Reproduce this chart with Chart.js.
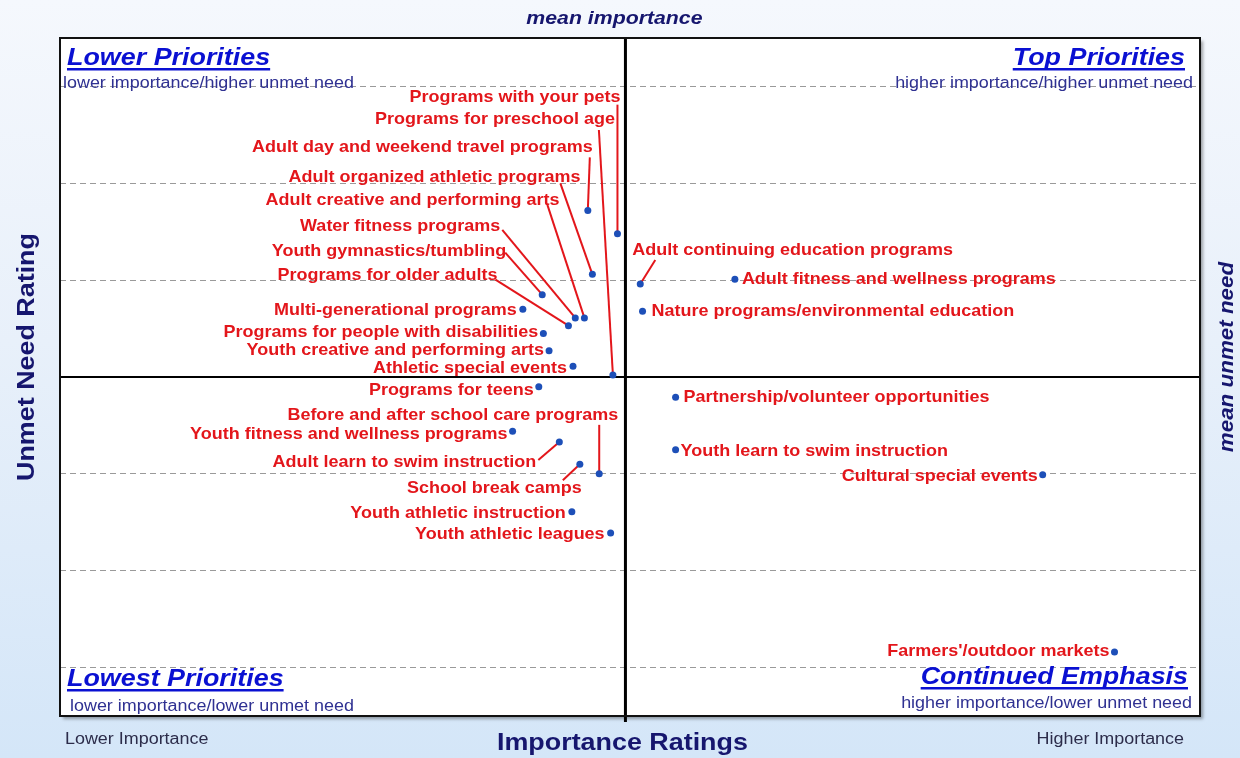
<!DOCTYPE html>
<html>
<head>
<meta charset="utf-8">
<script src="https://cdn.jsdelivr.net/npm/chart.js@4.4.0/dist/chart.umd.min.js"></script>
<style>
  html, body { margin: 0; padding: 0; }
  body {
    width: 1240px; height: 758px; overflow: hidden;
    background: linear-gradient(to bottom, #f5f8fd 0%, #e8f0fa 45%, #d4e6f8 100%);
  }
</style>
</head>
<body>
<canvas id="matrix" width="1240" height="758"></canvas>
<script>
// programs, importance rating (x) and unmet need rating (y)
const programs = [
    'Programs with your pets', 'Programs for preschool age', 'Adult day and weekend travel programs',
    'Adult organized athletic programs', 'Adult creative and performing arts', 'Water fitness programs',
    'Youth gymnastics/tumbling', 'Programs for older adults', 'Multi-generational programs',
    'Programs for people with disabilities', 'Youth creative and performing arts', 'Athletic special events',
    'Adult continuing education programs', 'Adult fitness and wellness programs', 'Nature programs/environmental education',
    'Programs for teens', 'Before and after school care programs', 'Youth fitness and wellness programs',
    'Adult learn to swim instruction', 'School break camps', 'Youth athletic instruction',
    'Youth athletic leagues', 'Partnership/volunteer opportunities', 'Youth learn to swim instruction',
    'Cultural special events', "Farmers'/outdoor markets"
];
const importance = [
    48.9, 48.5, 46.3, 46.7, 46.0, 45.2, 42.3, 44.6, 40.6, 42.4, 42.9, 45.0, 50.9,
    59.2, 51.1, 42.0, 47.3, 39.7, 43.8, 45.6, 44.9, 48.3, 54.0, 54.0, 86.2, 92.5
];
const unmetNeed = [
    4.98, 3.52, 5.22, 4.56, 4.11, 4.11, 4.35, 4.03, 4.20, 3.95, 3.77, 3.61, 4.46,
    4.51, 4.18, 3.40, 2.50, 2.94, 2.83, 2.60, 2.11, 1.89, 3.29, 2.75, 2.49, 0.66
];
const meanImportance = 49.6;
const meanUnmetNeed = 3.5;
const needGridLines = [0.5, 1.5, 2.5, 4.5, 5.5, 6.5];

// label placement relative to each dot: [dx, dy, align, leaderDx, leaderDy]
const labelPlacement = [
    [3, -138, 'right', 0, -129],
    [2, -257, 'right', -14, -245],
    [5, -64, 'right', 2, -53],
    [-12, -98, 'right', -32, -91],
    [-25, -119, 'right', -37, -113],
    [-75, -93, 'right', -73, -88],
    [-36, -45, 'right', -37, -42],
    [-71, -52, 'right', -73, -46],
    [-6, 0, 'right'],
    [-5, -2, 'right'],
    [-5, -2, 'right'],
    [-6, 1, 'right'],
    [-8, -35, 'left', 15, -24],
    [7, -1, 'left'],
    [9, -1, 'left'],
    [-5, 2, 'right'],
    [19, -60, 'right', 0, -49],
    [-5, 2, 'right'],
    [-23, 19, 'right', -21, 18],
    [2, 23, 'right', -17, 16],
    [-6, 0, 'right'],
    [-6, 0, 'right'],
    [8, -1, 'left'],
    [5, 0, 'left'],
    [-5, 0, 'right'],
    [-5, -2, 'right']
];

const FONT = '"Liberation Sans", Arial, Helvetica, sans-serif';
const LABEL_RED = '#e3161b';
const STRETCH = 1.12; // the original text is a bit wide

function drawText(ctx, text, x, y, font, color, align, underline, sx) {
    sx = sx || STRETCH;
    ctx.save();
    ctx.font = font;
    ctx.fillStyle = color;
    ctx.textAlign = align || 'left';
    ctx.translate(x, y);
    ctx.scale(sx, 1);
    ctx.fillText(text, 0, 0);
    if (underline) {
        const w = ctx.measureText(text).width;
        const x0 = align === 'right' ? -w : (align === 'center' ? -w / 2 : 0);
        ctx.fillRect(x0, 3, w, 2.5);
    }
    ctx.restore();
}

const quadrantPlugin = {
    id: 'quadrants',
    beforeDraw(chart) {
        const { ctx, chartArea: a } = chart;
        ctx.save();
        ctx.shadowColor = 'rgba(0,0,0,0.35)';
        ctx.shadowOffsetX = 3;
        ctx.shadowOffsetY = 3;
        ctx.shadowBlur = 3;
        ctx.fillStyle = '#ffffff';
        ctx.fillRect(a.left, a.top, a.right - a.left, a.bottom - a.top);
        ctx.restore();
    },
    beforeDatasetsDraw(chart) {
        const { ctx, chartArea: a, scales: { x, y } } = chart;
        ctx.save();
        // mean lines
        const mx = x.getPixelForValue(meanImportance);
        const my = y.getPixelForValue(meanUnmetNeed);
        ctx.strokeStyle = '#000';
        ctx.lineWidth = 2;
        ctx.beginPath();
        ctx.moveTo(a.left, my);
        ctx.lineTo(a.right, my);
        ctx.stroke();
        ctx.lineWidth = 3;
        ctx.beginPath();
        ctx.moveTo(mx, a.top);
        ctx.lineTo(mx, a.bottom + 6);
        ctx.stroke();

        // leader lines
        ctx.strokeStyle = LABEL_RED;
        ctx.lineWidth = 2;
        programs.forEach((p, i) => {
            const pl = labelPlacement[i];
            if (pl.length < 5) return;
            const px = x.getPixelForValue(importance[i]);
            const py = y.getPixelForValue(unmetNeed[i]);
            ctx.beginPath();
            ctx.moveTo(px + pl[3], py + pl[4]);
            ctx.lineTo(px, py);
            ctx.stroke();
        });
        ctx.restore();
    },
    afterDatasetsDraw(chart) {
        const { ctx, chartArea: a, scales: { x, y } } = chart;
        ctx.save();
        // frame
        ctx.strokeStyle = '#111';
        ctx.lineWidth = 2;
        ctx.strokeRect(a.left, a.top, a.right - a.left, a.bottom - a.top);

        // point labels
        programs.forEach((p, i) => {
            const pl = labelPlacement[i];
            const px = x.getPixelForValue(importance[i]);
            const py = y.getPixelForValue(unmetNeed[i]);
            drawText(ctx, p, px + pl[0], py + pl[1] + 6, 'bold 16.5px ' + FONT, LABEL_RED, pl[2], false, 1.09);
        });

        // quadrant headings
        const blue = '#0a10d2';
        const sub = '#2f3192';
        const head = 'italic bold 24px ' + FONT;
        drawText(ctx, 'Lower Priorities', a.left + 7, 65, head, blue, 'left', true);
        drawText(ctx, 'Top Priorities', a.right - 15, 65, head, blue, 'right', true);
        drawText(ctx, 'Lowest Priorities', a.left + 7, 686, head, blue, 'left', true);
        drawText(ctx, 'Continued Emphasis', a.right - 12, 684, head, blue, 'right', true);
        const subFont = '16px ' + FONT;
        drawText(ctx, 'lower importance/higher unmet need', a.left + 3, 88, subFont, sub, 'left');
        drawText(ctx, 'higher importance/higher unmet need', a.right - 7, 88, subFont, sub, 'right');
        drawText(ctx, 'lower importance/lower unmet need', a.left + 10, 711, subFont, sub, 'left');
        drawText(ctx, 'higher importance/lower unmet need', a.right - 8, 708, subFont, sub, 'right');
        ctx.restore();
    },
    afterDraw(chart) {
        const { ctx, chartArea: a, scales: { x } } = chart;
        ctx.save();
        const navy = '#16166e';
        const mx = x.getPixelForValue(meanImportance);
        drawText(ctx, 'mean importance', mx - 11, 24, 'italic bold 19px ' + FONT, navy, 'center');
        drawText(ctx, 'Importance Ratings', mx - 3, 750, 'bold 24px ' + FONT, navy, 'center');
        drawText(ctx, 'Lower Importance', 65, 744, '16px ' + FONT, '#2c2c4a', 'left');
        drawText(ctx, 'Higher Importance', 1184, 744, '16px ' + FONT, '#2c2c4a', 'right');

        const cy = (a.top + a.bottom) / 2 - 20;
        ctx.translate(34, cy);
        ctx.rotate(-Math.PI / 2);
        drawText(ctx, 'Unmet Need Rating', 0, 0, 'bold 24px ' + FONT, navy, 'center');
        ctx.setTransform(1, 0, 0, 1, 0, 0);
        ctx.translate(1233, cy);
        ctx.rotate(-Math.PI / 2);
        drawText(ctx, 'mean unmet need', 0, 0, 'italic bold 20px ' + FONT, navy, 'center');
        ctx.restore();
    }
};

new Chart(document.getElementById('matrix'), {
    type: 'scatter',
    data: {
        datasets: [{
            data: importance.map((v, i) => ({ x: v, y: unmetNeed[i] })),
            backgroundColor: '#1d4fb8',
            borderWidth: 0,
            pointRadius: 3.5
        }]
    },
    options: {
        responsive: false,
        animation: false,
        layout: { padding: { left: 60, right: 40, top: 38, bottom: 42 } },
        plugins: { legend: { display: false }, tooltip: { enabled: false } },
        scales: {
            x: {
                min: 0, max: 100,
                ticks: { display: false },
                grid: { display: false, drawTicks: false },
                border: { display: false }
            },
            y: {
                min: 0, max: 7,
                afterBuildTicks: scale => { scale.ticks = needGridLines.map(v => ({ value: v })); },
                ticks: { display: false },
                grid: { color: '#9a9a9a', lineWidth: 1, drawTicks: false },
                border: { display: false, dash: [6, 4] }
            }
        }
    },
    plugins: [quadrantPlugin]
});
</script>
</body>
</html>
